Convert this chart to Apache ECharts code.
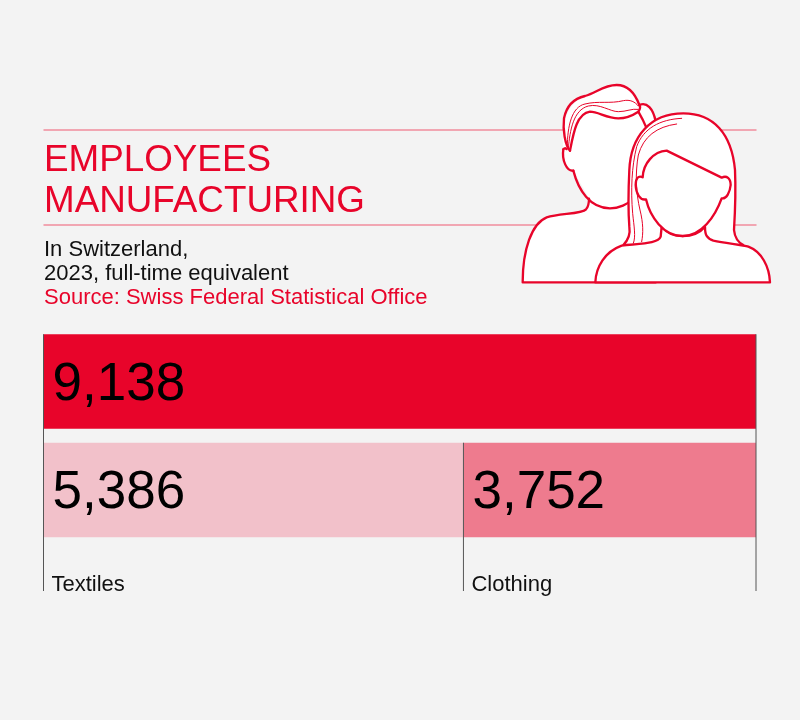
<!DOCTYPE html>
<html>
<head>
<meta charset="utf-8">
<style>html,body{margin:0;padding:0;background:#f3f3f3}#chart{width:800px;height:720px}</style>
<script src="https://cdn.jsdelivr.net/npm/echarts@6/dist/echarts.min.js"></script>
</head>
<body>
<div id="chart"></div>
<script>
var rows = ['Total', 'By branch'];
var totalValues = [9138, null];
var textileValues = [null, 5386];
var clothingValues = [null, 3752];
// divider lines: where they sit on the value axis, first row they touch, caption below
var dividerValues = [0, 5386, 9138];
var dividerRows = [0, 1, 0];
var dividerLabels = ['Textiles', 'Clothing', ''];

var red = '#e8042a';
var fontName = '"Liberation Sans", Arial, sans-serif';

function fmt(p) {
    return p.value == null ? '' : Number(p.value).toLocaleString('en-US');
}
function barLabel() {
    return {
        show: true, position: 'insideLeft', distance: 9, offset: [0, 3.5], formatter: fmt,
        color: '#000', fontFamily: fontName, fontSize: 53
    };
}

// the two people, drawn in a 3x box and scaled down
function person(d, fill, width) {
    return {
        type: 'path', x: 510, y: 80, scaleX: 1 / 3, scaleY: 1 / 3,
        shape: { pathData: d },
        style: { fill: fill, stroke: width ? red : 'none', lineWidth: width, lineJoin: 'round', lineCap: 'round' }
    };
}
var art = [
    // back person
    person('M38,607 C38,510 65,430 110,412 C150,400 225,402 232,380 L237,355 L190,272 C170,275 155,240 160,208 C155,150 160,75 225,48 C260,35 280,15 320,15 C355,15 375,40 388,75 C410,65 430,85 437,125 L437,400 L437,607 Z', '#fff', 0),
    person('M437,607 L38,607 C38,510 65,430 110,412 C150,400 215,402 228,388 C235,380 237,368 237,356', 'none', 7),
    person('M190,272 C205,330 240,385 300,385 C330,385 350,372 370,358', 'none', 7),
    person('M160,208 C155,240 170,275 190,272', 'none', 7),
    person('M160,208 C162,204 166,204 170,207', 'none', 7),
    person('M180,212 C165,195 158,150 162,115 C170,75 195,55 225,48 C260,38 280,15 320,15 C355,15 375,40 388,75', 'none', 7),
    person('M388,75 C410,65 430,85 437,125', 'none', 7),
    person('M180,212 C190,160 200,100 240,95 C265,95 290,115 325,115 C350,115 370,105 385,95 C395,112 403,128 410,145', 'none', 7),
    person('M385,95 C390,88 392,80 388,75', 'none', 7),
    person('M175,205 C180,150 190,90 235,78 C270,70 300,95 325,95 C350,95 365,85 385,88', 'none', 3),
    person('M172,200 C172,140 185,80 225,72 C265,62 300,72 340,62 C360,58 375,65 385,78', 'none', 3),
    // front person
    person('M340,495 C355,480 362,465 358,440 C355,400 355,330 358,270 C362,170 420,100 520,100 C610,100 665,160 675,270 C678,340 675,400 672,450 C675,480 690,490 700,495 Z', '#fff', 7),
    person('M256,607 C258,560 285,515 335,497 C400,490 445,490 452,470 L455,440 C470,458 495,468 518,468 C545,468 570,458 585,440 C585,465 590,475 610,482 C650,490 700,495 715,500 C755,515 778,560 780,607 Z', '#fff', 7),
    person('M408,358 C420,410 460,468 518,468 C575,468 615,410 635,355 C650,358 660,335 662,315 C662,295 650,285 635,293 L470,212 C430,215 400,250 398,292 C385,285 377,295 377,315 C378,340 390,362 408,358 Z', '#fff', 7),
    person('M515,115 C450,118 400,145 380,200 C365,260 362,330 368,400 C372,440 378,470 370,490', 'none', 3),
    person('M500,132 C440,140 400,170 385,225 C375,280 378,340 390,390 C400,430 400,460 395,485', 'none', 3)
];

var option = {
    backgroundColor: '#f3f3f3',
    animation: false,
    title: [
        { text: 'EMPLOYEES\nMANUFACTURING', left: 44, top: 140, padding: 0, textStyle: { color: red, fontFamily: fontName, fontWeight: 'normal', fontSize: 36.8, lineHeight: 41 } },
        { text: 'In Switzerland,\n2023, full-time equivalent', left: 44, top: 237.5, padding: 0, textStyle: { color: '#111', fontFamily: fontName, fontWeight: 'normal', fontSize: 22, lineHeight: 24.5 } },
        { text: 'Source: Swiss Federal Statistical Office', left: 44, top: 286, padding: 0, textStyle: { color: red, fontFamily: fontName, fontWeight: 'normal', fontSize: 22, lineHeight: 24.5 } }
    ],
    // header rules sit behind the illustration
    graphic: [
        { type: 'line', silent: true, z: 1, shape: { x1: 43.5, y1: 130, x2: 756.5, y2: 130 }, style: { stroke: '#f08c9c', lineWidth: 1.5 } },
        { type: 'line', silent: true, z: 1, shape: { x1: 43.5, y1: 225, x2: 756.5, y2: 225 }, style: { stroke: '#f08c9c', lineWidth: 1.5 } }
    ],
    grid: { left: 43.5, width: 712.5, top: 327.25, height: 217 },
    xAxis: { type: 'value', min: 0, max: 9138, show: false },
    yAxis: { type: 'category', data: rows, inverse: true, show: false },
    series: [
        { type: 'bar', stack: 'all', barWidth: 94.5, data: totalValues, itemStyle: { color: red }, label: barLabel() },
        { type: 'bar', stack: 'all', barWidth: 94.5, data: textileValues, itemStyle: { color: '#f2c1ca' }, label: barLabel() },
        { type: 'bar', stack: 'all', barWidth: 94.5, data: clothingValues, itemStyle: { color: '#ee7b8e' }, label: barLabel() },
        {
            type: 'custom', clip: false, z: 5, encode: { x: 0, y: 1 }, silent: true,
            data: dividerValues.map(function (v, i) { return [v, dividerRows[i]]; }),
            renderItem: function (params, api) {
                var p = api.coord([api.value(0), api.value(1)]);
                var bottom = api.coord([0, rows.length - 1])[1] + 101;
                return {
                    type: 'group',
                    children: [
                        { type: 'line', shape: { x1: p[0], y1: p[1] - 47.25, x2: p[0], y2: bottom }, style: { stroke: '#555', lineWidth: 1 } },
                        { type: 'text', x: p[0] + 8, y: bottom - 6, style: { text: dividerLabels[params.dataIndex], fill: '#111', fontFamily: fontName, fontSize: 22, verticalAlign: 'middle' } }
                    ]
                };
            }
        },
        {
            // illustration, not data
            type: 'custom', clip: false, z: 3, silent: true, encode: { x: 0, y: 1 },
            data: [[0, 0]],
            renderItem: function () {
                return { type: 'group', children: art };
            }
        }
    ]
};
var chart = echarts.init(document.getElementById('chart'));
chart.setOption(option);
</script>
</body>
</html>
